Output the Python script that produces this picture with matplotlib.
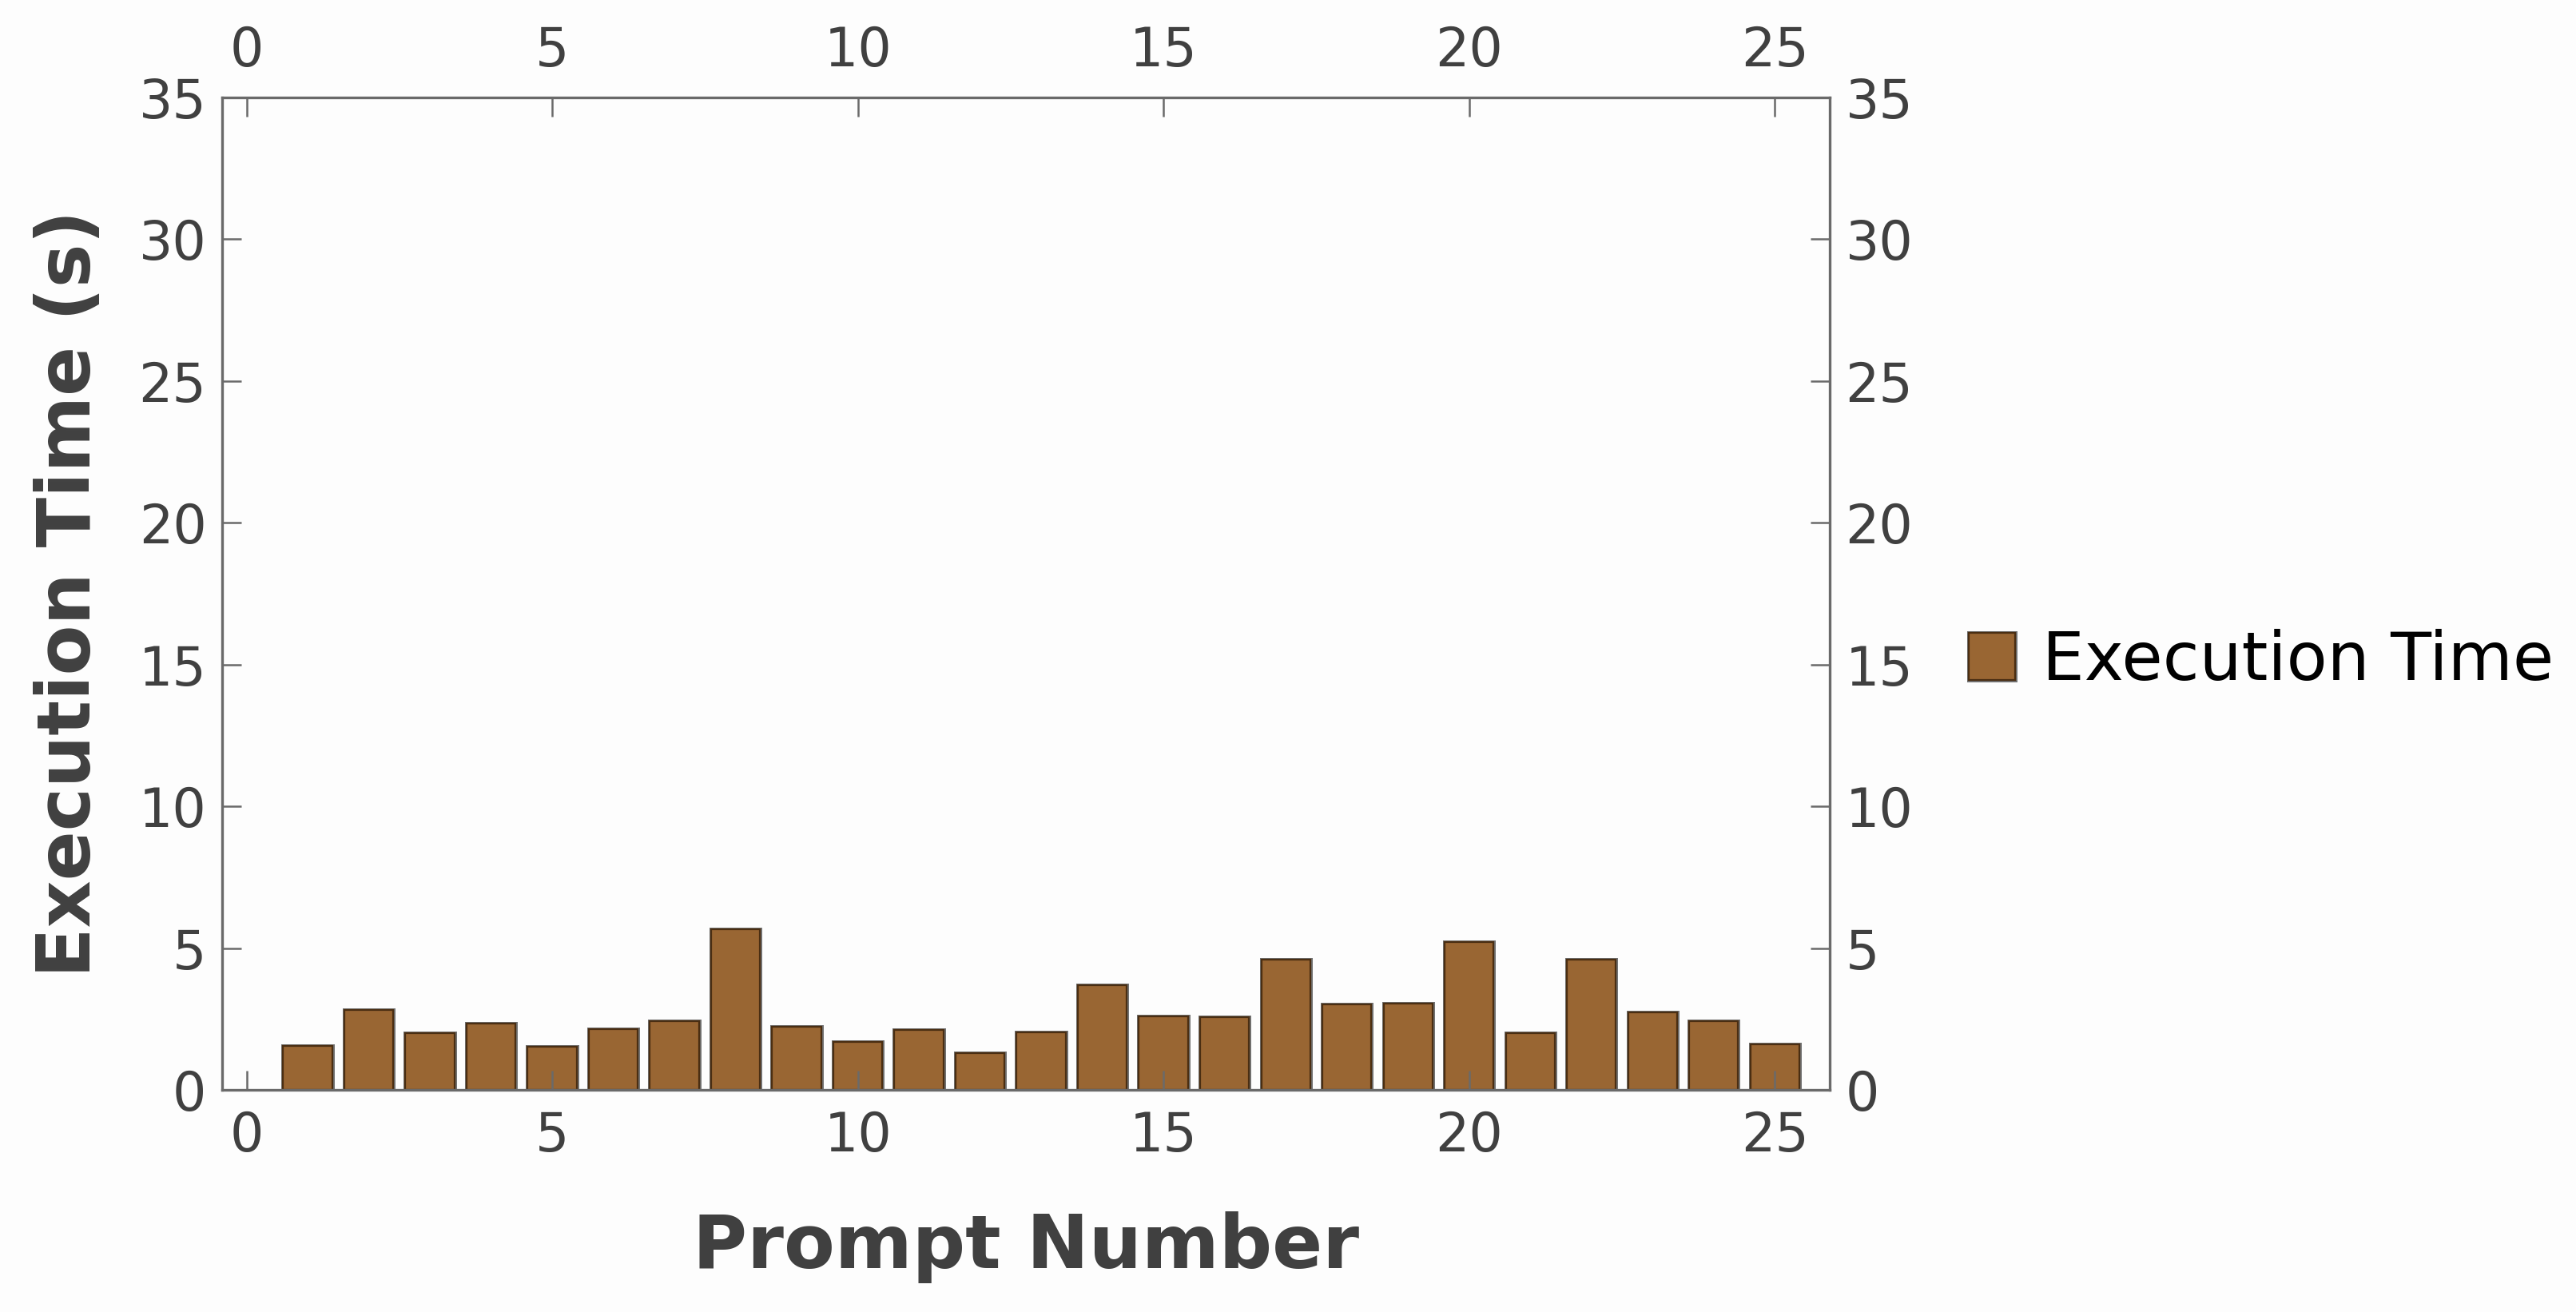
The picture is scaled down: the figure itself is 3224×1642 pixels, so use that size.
import matplotlib.pyplot as plt
from matplotlib.legend_handler import HandlerTuple

# data
prompts = list(range(1, 26))
exec_times = [1.56, 2.83, 2.01, 2.33, 1.53, 2.15, 2.43, 5.66, 2.22, 1.70,
              2.12, 1.31, 2.04, 3.70, 2.60, 2.56, 4.58, 3.01, 3.04, 5.20,
              2.01, 4.58, 2.74, 2.41, 1.62]
series_name = 'Execution Time'
x_ticks = list(range(0, 26, 5))
y_ticks = list(range(0, 36, 5))

bg = '#fdfdfd'
spine_col = '#6a6a6a'
text_col = '#404040'

fig = plt.figure(figsize=(16.12, 8.21), dpi=200, facecolor=bg)
ax = fig.add_axes([0.0862, 0.1693, 0.6241, 0.7564])
ax.set_facecolor(bg)

# grey outline underneath, then the brown bars with a dark edge on top
outline = ax.bar(prompts, exec_times, width=0.8, color='none',
                 edgecolor='#727272', linewidth=1.8)
bars = ax.bar(prompts, exec_times, width=0.8, color='#996633',
              edgecolor='#4a2e12', linewidth=0.8)

ax.set_xlim(-0.4, 25.9)
ax.set_ylim(0, 35)
ax.set_xticks(x_ticks)
ax.set_yticks(y_ticks)

ax.tick_params(direction='in', length=8.5, width=0.9, color=spine_col,
               labelcolor=text_col, labelsize=24,
               top=True, right=True, labeltop=True, labelright=True)
ax.tick_params(axis='x', pad=9)
ax.tick_params(axis='y', pad=7)
for s in ax.spines.values():
    s.set_color(spine_col)
    s.set_linewidth(1.2)

ax.set_xlabel('Prompt Number', fontsize=33.5, fontweight='bold',
              color=text_col, labelpad=22)
ax.set_ylabel('Execution Time (s)', fontsize=33, fontweight='bold',
              color=text_col, labelpad=15)

ax.legend([(outline, bars)], [series_name],
          handler_map={tuple: HandlerTuple(ndivide=1)},
          loc='center left', bbox_to_anchor=(0.7643, 0.4963),
          bbox_transform=fig.transFigure, frameon=False, fontsize=30,
          handlelength=0.7, handleheight=0.7, handletextpad=0.4,
          borderpad=0, borderaxespad=0)

fig.savefig('out.png', dpi=200, facecolor=fig.get_facecolor())
